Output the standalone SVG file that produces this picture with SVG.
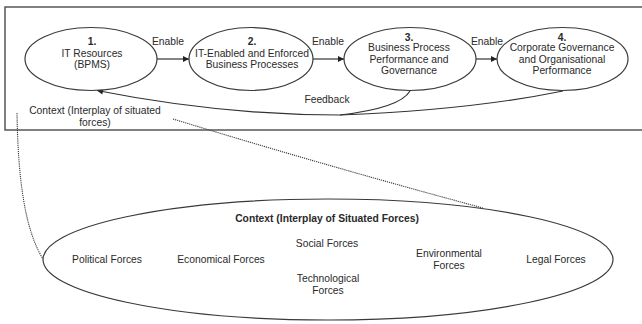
<svg xmlns="http://www.w3.org/2000/svg" width="642" height="324" viewBox="0 0 642 324">
  <style>
    .node { fill: #fff; stroke: #3a3a3a; stroke-width: 1.2; }
    .frame { fill: none; stroke: #4a4a4a; stroke-width: 1.4; }
    .t { font-family: "Liberation Sans", Arial, sans-serif; font-size: 10.3px; fill: #2a2a2a; text-anchor: middle; }
    .b { font-weight: bold; }
    .edge { fill: none; stroke: #333; stroke-width: 1.2; }
    .dots { fill: none; stroke: #3c3c3c; stroke-width: 1.1; stroke-dasharray: 1.2 0.9; }
  </style>
  <defs>
    <marker id="arrow" viewBox="0 0 10 10" refX="10" refY="5" markerWidth="7" markerHeight="6" markerUnits="userSpaceOnUse" orient="auto">
      <path d="M0,0 L10,5 L0,10 z" fill="#222"/>
    </marker>
  </defs>

  <rect class="frame" x="5" y="7" width="660" height="123"/>

  <g id="connectors">
    <line class="edge" x1="157" y1="59" x2="189" y2="59" marker-end="url(#arrow)"/>
    <line class="edge" x1="313" y1="59" x2="344" y2="59" marker-end="url(#arrow)"/>
    <line class="edge" x1="476" y1="59" x2="497" y2="59" marker-end="url(#arrow)"/>
    <path class="edge" d="M563,91 Q470,110 340,115 Q220,115 97,90.5" marker-end="url(#arrow)"/>
    <path class="edge" d="M410,91 Q400,108 340,115"/>
    <path class="dots" d="M17,113 C18,180 25,230 43,259"/>
    <path class="dots" d="M173,119 Q330,167 483,208"/>
    <text class="t" x="168" y="44.5">Enable</text>
    <text class="t" x="328" y="44.5">Enable</text>
    <text class="t" x="487" y="44.5">Enable</text>
    <text class="t" x="327" y="102.7">Feedback</text>
  </g>

  <g id="n1">
    <ellipse class="node" cx="91" cy="59" rx="66" ry="31.5"/>
    <text class="t b" x="92" y="44.5">1.</text>
    <text class="t" x="92" y="57">IT Resources</text>
    <text class="t" x="92" y="68">(BPMS)</text>
  </g>

  <g id="n2">
    <ellipse class="node" cx="251" cy="59" rx="62" ry="31.5"/>
    <text class="t b" x="252" y="44.5">2.</text>
    <text class="t" x="252" y="57">IT-Enabled and Enforced</text>
    <text class="t" x="252" y="68">Business Processes</text>
  </g>

  <g id="n3">
    <ellipse class="node" cx="410" cy="59" rx="66" ry="31.5"/>
    <text class="t b" x="409" y="41.4">3.</text>
    <text class="t" x="409" y="51.4">Business Process</text>
    <text class="t" x="409" y="63">Performance and</text>
    <text class="t" x="409" y="74.4">Governance</text>
  </g>

  <g id="n4">
    <ellipse class="node" cx="562.5" cy="59" rx="65.5" ry="31.5"/>
    <text class="t b" x="562" y="41.4">4.</text>
    <text class="t" x="562" y="51.4">Corporate Governance</text>
    <text class="t" x="562" y="63">and Organisational</text>
    <text class="t" x="562" y="74.4">Performance</text>
  </g>

  <g id="context-label">
    <text class="t" x="95" y="113.7">Context (Interplay of situated</text>
    <text class="t" x="95" y="125.5">forces)</text>
  </g>

  <g id="context">
    <ellipse class="node" cx="328" cy="259.5" rx="285" ry="60.5"/>
    <text class="t b" x="327" y="221.7">Context (Interplay of Situated Forces)</text>
    <text class="t" x="327" y="246.7">Social Forces</text>
    <text class="t" x="107" y="262.7">Political Forces</text>
    <text class="t" x="221" y="262.7">Economical Forces</text>
    <text class="t" x="328" y="281.7">Technological</text>
    <text class="t" x="328" y="293.5">Forces</text>
    <text class="t" x="449" y="256.7">Environmental</text>
    <text class="t" x="449" y="268.5">Forces</text>
    <text class="t" x="556" y="262.7">Legal Forces</text>
  </g>
</svg>
